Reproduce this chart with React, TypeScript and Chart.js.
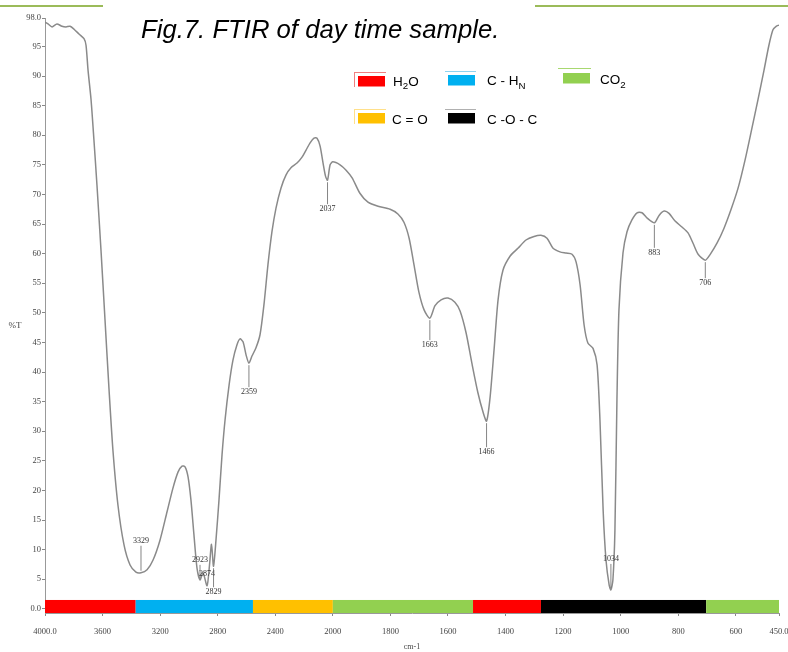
import React, { useEffect, useRef } from 'react';
import { Chart, registerables, LinearScale } from 'chart.js';

Chart.register(...registerables);

// ---------- text ----------
const TITLE = 'Fig.7. FTIR of day time sample.';
const X_TITLE = 'cm-1';
const Y_TITLE = '%T';

// ---------- axes ----------
const X_MAX = 4000;
const X_MIN = 450;
const X_BREAK = 2000; // scale expands 2x below this wavenumber
const X_TICK_VALUES = [4000, 3600, 3200, 2800, 2400, 2000, 1800, 1600, 1400, 1200, 1000, 800, 600, 450];
const X_TICK_LABELS = ['4000.0', '3600', '3200', '2800', '2400', '2000', '1800', '1600', '1400', '1200', '1000', '800', '600', '450.0'];
const Y_MIN = -0.7;
const Y_MAX = 99.8;
const Y_TICK_VALUES = [0, 5, 10, 15, 20, 25, 30, 35, 40, 45, 50, 55, 60, 65, 70, 75, 80, 85, 90, 95, 99.8];
const Y_TICK_LABELS = ['0.0', '5', '10', '15', '20', '25', '30', '35', '40', '45', '50', '55', '60', '65', '70', '75', '80', '85', '90', '95', '98.0'];

// ---------- spectrum ----------
const SPECTRUM_WAVENUMBER = [
  4000, 3979, 3951, 3917, 3882, 3854, 3826, 3798, 3764, 3729, 3715, 3701, 3680, 3660, 3639, 3611, 3583, 3555, 3528, 3493,
  3451, 3409, 3368, 3333, 3291, 3250, 3201, 3152, 3111, 3076, 3048, 3027, 3006, 2986, 2965, 2944, 2923, 2902, 2874, 2857,
  2843, 2829, 2812, 2791, 2770, 2749, 2721, 2694, 2666, 2645, 2624, 2603, 2583, 2562, 2534, 2506, 2479, 2451, 2423, 2395,
  2360, 2325, 2291, 2249, 2214, 2186, 2158, 2131, 2110, 2089, 2068, 2051, 2037, 2019, 2000, 1975, 1954, 1933, 1906, 1878,
  1843, 1801, 1774, 1753, 1735, 1718, 1701, 1683, 1663, 1645, 1624, 1600, 1576, 1558, 1537, 1517, 1496, 1478, 1466, 1454,
  1440, 1426, 1409, 1384, 1357, 1329, 1301, 1277, 1256, 1235, 1211, 1190, 1169, 1155, 1141, 1127, 1114, 1096, 1082, 1072,
  1061, 1051, 1040, 1034, 1027, 1020, 1013, 1006, 992, 978, 961, 943, 926, 908, 883, 866, 849, 832, 811, 787,
  766, 749, 731, 706, 690, 665, 641, 617, 592, 568, 544, 523, 502, 485, 471, 460, 450,
];
const SPECTRUM_T = [
  99.1, 98.8, 98.3, 98.8, 98.4, 98.3, 98.4, 97.9, 97.1, 96.3, 95.2, 91.0, 86.0, 79.2, 71.6, 60.6, 48.8, 37.0, 26.8, 17.5,
  10.8, 7.4, 6.2, 6.1, 6.6, 8.2, 11.6, 16.4, 20.4, 23.1, 24.1, 24.0, 22.3, 18.4, 12.5, 6.9, 4.9, 6.1, 3.9, 7.4,
  10.9, 7.2, 11.6, 18.4, 26.0, 31.9, 37.8, 42.0, 44.6, 45.6, 45.1, 42.9, 41.5, 42.7, 44.1, 46.3, 51.3, 58.1, 63.7, 67.7,
  71.1, 73.3, 74.5, 75.3, 76.3, 77.5, 78.7, 79.5, 79.5, 78.2, 75.3, 73.1, 72.4, 75.0, 75.5, 75.0, 74.1, 72.8, 70.2, 68.7,
  68.0, 67.5, 66.7, 65.3, 62.6, 58.1, 53.5, 50.5, 49.1, 51.2, 52.2, 52.5, 51.8, 50.3, 46.6, 41.5, 36.5, 33.2, 31.7, 35.6,
  43.7, 52.2, 57.2, 59.6, 60.9, 62.3, 62.9, 63.1, 62.6, 60.9, 60.3, 60.1, 59.9, 58.6, 54.7, 47.9, 44.9, 44.0, 41.2, 31.9,
  16.7, 8.2, 4.0, 3.2, 4.9, 13.3, 35.3, 50.5, 60.1, 63.7, 65.7, 66.9, 66.9, 66.0, 65.2, 66.5, 67.2, 66.8, 65.5, 64.5,
  63.5, 61.8, 59.9, 58.9, 59.8, 61.8, 64.3, 67.4, 71.1, 75.8, 81.2, 86.0, 91.0, 95.2, 97.8, 98.4, 98.6,
];

// ---------- peak annotations ----------
const PEAK_WAVENUMBER = [3333, 2923, 2874, 2829, 2583, 2037, 1663, 1466, 1034, 883, 706];
const PEAK_LABELS = ['3329', '2923', '2874', '2829', '2359', '2037', '1663', '1466', '1034', '883', '706'];

// ---------- band assignment strip ----------
const BAND_FROM = [4000, 3370, 2555, 2000, 1513, 1277, 703];
const BAND_TO = [3370, 2555, 2000, 1513, 1277, 703, 450];
const BAND_GROUP = [0, 1, 3, 2, 0, 4, 2];
const GROUP_NAMES = ['H_2O', 'C - H_N', 'CO_2', 'C = O', 'C -O - C'];
const GROUP_COLORS = ['#ff0000', '#00b0f0', '#92d050', '#ffc000', '#000000'];
const GROUP_ACCENTS = ['#f08080', '#8fd3f0', '#a8d870', '#ffe08a', '#b0b0b0'];

// ---------- custom broken-scale x axis (FTIR style) ----------
const toVirtual = (w: number) =>
  w >= X_BREAK ? (X_MAX - w) / 2 : (X_MAX - X_BREAK) / 2 + (X_BREAK - w);
const fromVirtual = (v: number) => {
  const half = (X_MAX - X_BREAK) / 2;
  return v <= half ? X_MAX - 2 * v : X_BREAK - (v - half);
};

class FtirScale extends LinearScale {
  static id = 'ftir';
  static defaults = { ...(LinearScale as any).defaults };
  getPixelForValue(value: number) {
    const span = toVirtual(X_MIN);
    return (this as any).left + (toVirtual(value) / span) * (this as any).width;
  }
  getValueForPixel(pixel: number) {
    const span = toVirtual(X_MIN);
    return fromVirtual(((pixel - (this as any).left) / (this as any).width) * span);
  }
}
Chart.register(FtirScale as any);

const SANS = '"Liberation Sans", Arial, sans-serif';
const SERIF = '"Liberation Serif", "Times New Roman", serif';

function drawRich(ctx: CanvasRenderingContext2D, text: string, x: number, y: number, size: number) {
  let cx = x;
  for (let i = 0; i < text.length; i++) {
    let ch = text[i];
    let sub = false;
    if (ch === '_' && i + 1 < text.length) {
      sub = true;
      i++;
      ch = text[i];
    }
    ctx.font = `${sub ? size * 0.72 : size}px ${SANS}`;
    ctx.fillText(ch, cx, sub ? y + size * 0.32 : y);
    cx += ctx.measureText(ch).width;
  }
}

const PEAK_LABEL_DY = [-32, -20, -12, 26, 29, 29, 27, 31, -31, 30, 23];
const LEGEND_POS = [
  { sx: 358, sy: 76, tx: 393, ty: 82, top: 72, lx: 354 },
  { sx: 448, sy: 75, tx: 487, ty: 81.5, top: 71, lx: 445 },
  { sx: 563, sy: 73, tx: 600, ty: 80.5, top: 68, lx: 558 },
  { sx: 358, sy: 113, tx: 392, ty: 120.5, top: 109, lx: 354 },
  { sx: 448, sy: 113, tx: 487, ty: 120.5, top: 109, lx: 445 },
];

const bandPlugin = {
  id: 'bands',
  beforeDatasetsDraw(chart: any) {
    const { ctx, scales } = chart;
    const xs = scales.x;
    const ys = scales.y;
    const yTop = ys.getPixelForValue(1.5);
    const yBot = ys.getPixelForValue(Y_MIN);
    ctx.save();
    BAND_FROM.forEach((from, i) => {
      const x1 = xs.getPixelForValue(from);
      const x2 = xs.getPixelForValue(BAND_TO[i]);
      ctx.fillStyle = GROUP_COLORS[BAND_GROUP[i]];
      ctx.fillRect(x1, yTop, x2 - x1, yBot - yTop);
    });
    ctx.restore();
  },
};

const decorPlugin = {
  id: 'decor',
  afterDraw(chart: any) {
    const { ctx, scales } = chart;
    const xs = scales.x;
    const ys = scales.y;
    ctx.save();
    // decorative page rules
    ctx.fillStyle = '#9bbb59';
    ctx.fillRect(0, 5, 103, 2);
    ctx.fillRect(535, 5, 253, 2);
    // title
    ctx.fillStyle = '#000';
    ctx.font = `italic 25.7px ${SANS}`;
    ctx.textBaseline = 'alphabetic';
    ctx.textAlign = 'left';
    ctx.fillText(TITLE, 141, 38);
    // y title
    ctx.font = `9px ${SERIF}`;
    ctx.fillStyle = '#444';
    ctx.textAlign = 'center';
    ctx.textBaseline = 'middle';
    ctx.fillText(Y_TITLE, 15, 326);
    // legend
    GROUP_NAMES.forEach((name, i) => {
      const p = LEGEND_POS[i];
      ctx.fillStyle = GROUP_ACCENTS[i];
      ctx.fillRect(p.lx, p.top, 386 - 358 + (p.sx - p.lx), 1);
      if (i === 0 || i === 3) ctx.fillRect(p.lx, p.top, 1, 15);
      ctx.fillStyle = GROUP_COLORS[i];
      ctx.fillRect(p.sx, p.sy, 27, 10.5);
      ctx.fillStyle = '#000';
      ctx.textAlign = 'left';
      ctx.textBaseline = 'middle';
      drawRich(ctx, name, p.tx, p.ty, 13.5);
    });
    // peak labels
    ctx.font = `8px ${SERIF}`;
    ctx.textAlign = 'center';
    ctx.textBaseline = 'middle';
    PEAK_WAVENUMBER.forEach((w, i) => {
      let best = 0;
      SPECTRUM_WAVENUMBER.forEach((sw, j) => {
        if (Math.abs(sw - w) < Math.abs(SPECTRUM_WAVENUMBER[best] - w)) best = j;
      });
      const px = xs.getPixelForValue(w);
      const py = ys.getPixelForValue(SPECTRUM_T[best]);
      const dy = PEAK_LABEL_DY[i];
      const ly = py + dy;
      ctx.strokeStyle = '#666';
      ctx.lineWidth = 0.8;
      if (Math.abs(dy) > 18) {
        ctx.beginPath();
        ctx.moveTo(px, py + Math.sign(dy) * 2);
        ctx.lineTo(px, ly - Math.sign(dy) * 5);
        ctx.stroke();
      }
      ctx.fillStyle = '#333';
      ctx.fillText(PEAK_LABELS[i], px, ly);
    });
    ctx.restore();
  },
};

export default function App() {
  const canvasRef = useRef<HTMLCanvasElement | null>(null);
  useEffect(() => {
    if (!canvasRef.current) return;
    const chart = new Chart(canvasRef.current, {
      type: 'line',
      data: {
        datasets: [
          {
            data: SPECTRUM_WAVENUMBER.map((w, i) => ({ x: w, y: SPECTRUM_T[i] })),
            borderColor: '#8a8a8a',
            borderWidth: 1.5,
            pointRadius: 0,
            tension: 0.25,
            fill: false,
          },
        ],
      },
      options: {
        animation: false,
        responsive: false,
        maintainAspectRatio: false,
        layout: { padding: { left: 0, right: 9, top: 18, bottom: 0 } },
        plugins: {
          legend: { display: false },
          tooltip: { enabled: false },
          title: { display: false },
        },
        scales: {
          x: {
            type: 'ftir' as any,
            min: X_MIN,
            max: X_MAX,
            afterBuildTicks: (s: any) => {
              s.ticks = X_TICK_VALUES.map((v) => ({ value: v }));
            },
            afterFit: (s: any) => {
              s.height = 39;
              s.paddingLeft = 0;
              s.paddingRight = 0;
            },
            ticks: {
              autoSkip: false,
              maxRotation: 0,
              minRotation: 0,
              padding: 11,
              color: '#444',
              font: { family: SERIF, size: 8.5 },
              callback: (_v: any, i: number) => X_TICK_LABELS[i],
            },
            grid: { drawOnChartArea: false, drawTicks: true, tickLength: 3, color: '#888' },
            border: { display: true, color: '#999', width: 1 },
            title: {
              display: true,
              text: X_TITLE,
              color: '#444',
              font: { family: SERIF, size: 8 },
              padding: { top: 0, bottom: 0 },
            },
          },
          y: {
            min: Y_MIN,
            max: Y_MAX,
            afterBuildTicks: (s: any) => {
              s.ticks = Y_TICK_VALUES.map((v) => ({ value: v }));
            },
            afterFit: (s: any) => {
              s.width = 45;
              s.paddingTop = 0;
              s.paddingBottom = 0;
            },
            ticks: {
              autoSkip: false,
              padding: 1,
              color: '#444',
              font: { family: SERIF, size: 8.5 },
              callback: (_v: any, i: number) => Y_TICK_LABELS[i],
            },
            grid: { drawOnChartArea: false, drawTicks: true, tickLength: 3, color: '#888' },
            border: { display: true, color: '#999', width: 1 },
          },
        },
      },
      plugins: [bandPlugin, decorPlugin],
    } as any);
    return () => chart.destroy();
  }, []);

  return (
    <div style={{ position: 'absolute', left: 0, top: 0, width: 788, height: 652, background: '#fff' }}>
      <canvas ref={canvasRef} width={788} height={652} />
    </div>
  );
}
